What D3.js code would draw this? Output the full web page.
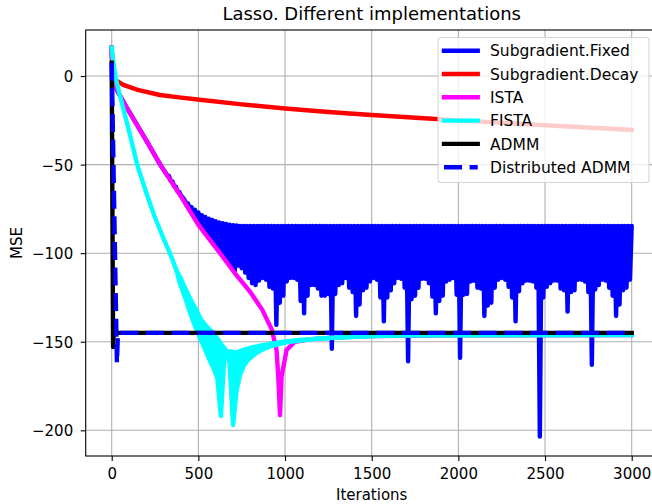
<!DOCTYPE html>
<html>
<head>
<meta charset="utf-8">
<script src="https://cdn.jsdelivr.net/npm/d3@7"></script>
<style>
  body { margin: 0; background: #fff; }
  svg { display: block; font-family: 'DejaVu Sans', sans-serif; }
</style>
</head>
<body>
<svg id="chart" width="652" height="504"></svg>
<script>
// values (MSE per iteration)

const xTicks = [0, 500, 1000, 1500, 2000, 2500, 3000]
const yTicks = [0, -50, -100, -150, -200]

const seriesNames = ['Subgradient.Fixed', 'Subgradient.Decay', 'ISTA', 'FISTA', 'ADMM', 'Distributed ADMM']
const seriesColors = ['#0000ff', '#ff0000', '#ff00ff', '#00ffff', '#000000', '#0000ff']

// Subgradient.Fixed: smooth start, then it oscillates every few iterations.
// peaks sit at fixedStart + i*fixedStep, troughs half a step later
const fixedHeadIter = [0, 5, 30, 100, 200, 280]
const fixedHeadMSE = [16, 2, -8, -20, -36.5, -50]
const fixedStart = 320
const fixedStep = 20
const fixedPeakMSE = [
  -56, -59, -62, -65, -67.5, -70, -72, -74, -75.5, -77, -78.5, -79.5, -80.5, -81.3,
  -82, -82.6, -83.1, -83.5, -83.9, -84.2, -84.4,
  -84.6, -84.6, -84.6, -84.6, -84.6, -84.6, -84.6, -84.6, -84.6, -84.6, -84.6, -84.6,
  -84.6, -84.6, -84.6, -84.6, -84.6, -84.6, -84.6, -84.6, -84.6, -84.6, -84.6, -84.6,
  -84.6, -84.6, -84.6, -84.6, -84.6, -84.6, -84.6, -84.6, -84.6, -84.6, -84.6, -84.6,
  -84.6, -84.6, -84.6, -84.6, -84.6, -84.6, -84.6, -84.6, -84.6, -84.6, -84.6, -84.6,
  -84.6, -84.6, -84.6, -84.6, -84.6, -84.6, -84.6, -84.6, -84.6, -84.6, -84.6, -84.6,
  -84.6, -84.6, -84.6, -84.6, -84.6, -84.6, -84.6, -84.6, -84.6, -84.6, -84.6, -84.6,
  -84.6, -84.6, -84.6, -84.6, -84.6, -84.6, -84.6, -84.6, -84.6, -84.6, -84.6, -84.6,
  -84.6, -84.6, -84.6, -84.6, -84.6, -84.6, -84.6, -84.6, -84.6, -84.6, -84.6, -84.6,
  -84.6, -84.6, -84.6, -84.6, -84.6, -84.6, -84.6, -84.6, -84.6, -84.6, -84.6, -84.6,
  -84.6, -84.6, -84.6, -84.6, -84.6, -84.6,
]
const fixedTroughMSE = [
  -56.5, -59.5, -62.5, -65.5, -68.6, -71.8, -75, -78.2, -81.4, -84.3,
  -86.8, -89.4, -92, -94.5, -97, -99.6, -102.3, -105, -107.6, -110.2,
  -107, -108.5, -111, -114, -117, -118, -115.5, -114, -115, -119,
  -120, -140.5, -128, -124, -116, -114, -114, -115, -127, -134,
  -124, -118, -118, -120, -124, -124, -123, -154, -123, -118,
  -117, -114, -119.5, -122, -135.5, -129, -121, -119.5, -116, -114,
  -115, -125, -138.5, -125, -121, -117, -114, -114.5, -119.5, -161,
  -126, -124, -119.5, -114.5, -114.5, -117, -124.5, -134, -127, -124,
  -116, -115, -114, -123.5, -159, -123.5, -123, -116, -115.5, -119.5,
  -120, -135.5, -129.5, -128, -119.5, -115, -114, -115, -119, -125,
  -138.5, -121.5, -117, -115.5, -115.5, -116, -119.5, -203.5, -125, -119,
  -117, -115.5, -115.5, -120, -121, -133, -122, -121, -115, -115,
  -116, -122, -163, -120.5, -118, -115, -115.5, -119.5, -124, -135.5,
  -129, -121, -119.5, -115,
]

const decayIter = [0, 4, 10, 25, 67, 150, 278, 400, 509, 750, 1000, 1250, 1500, 1778, 2000, 2500, 3000]
const decayMSE = [16, 1, -0.5, -2.5, -5, -7.8, -10.7, -12.2, -13.4, -16, -18.3, -20.3, -22, -23.7, -25, -27.8, -30.4]

const istaIter = [0, 5, 30, 100, 200, 280, 400, 500, 625, 716, 800, 869, 923, 951, 961, 971, 980, 1009, 1057, 1150, 1300, 1500, 2000, 3000]
const istaMSE = [16, 2, -8, -20, -36.5, -50, -68, -84, -100, -112, -122, -132, -143, -154.6, -169.7, -191.5, -169.7, -154.6, -150, -148.5, -147.5, -146.8, -146.4, -146.2]

// FISTA: one line, then it flips between two strands (odd / even iterates),
// then one line again. strand A at fistaStart + i*fistaStep, strand B half a step later
const fistaHeadIter = [0, 10, 25, 50, 100, 147, 200, 250, 300, 336, 375]
const fistaHeadMSE = [16, 7, -2, -12, -31, -50, -66, -80, -92, -100, -110]
const fistaStart = 390
const fistaStep = 20
const fistaStrandA = [
  -116, -121.5, -127, -133, -138.5, -143.5, -148, -152.5, -157, -161.5, -165.5,
  -171, -192, -158, -155.5, -155.5, -156, -155.7, -155, -154.3, -153.7, -153.2,
  -152.7, -152.3, -151.9, -151.6, -151.2, -150.9, -150.6, -150.3, -150, -149.8,
  -149.6, -149.4, -149.2, -149, -148.8, -148.7, -148.5, -148.4, -148.2, -148.1,
  -148, -147.9, -147.8, -147.7, -147.6, -147.5, -147.4, -147.3, -147.2,
]
const fistaStrandB = [
  -114.5, -119, -123, -127, -130.5, -134.5, -138, -140.5, -142.5, -144.5, -147,
  -149.5, -152.5, -155, -162, -197, -178, -169, -164, -161, -159, -157.5,
  -156, -155, -154, -153.2, -152.5, -152, -151.4, -151, -150.5, -150.2,
  -149.9, -149.6, -149.4, -149.2, -149, -148.8, -148.6, -148.4, -148.3, -148.1,
  -148, -147.9, -147.8, -147.7, -147.6, -147.5, -147.4, -147.3, -147.2,
]
const fistaTailIter = [1500, 1700, 2200, 3000]
const fistaTailMSE = [-146.8, -146.5, -146.3, -146.2]

const admmIter = [0, 8, 12, 3000]
const admmMSE = [7.5, -153, -145, -145]

const dadmmIter = [0, 30, 36, 3000]
const dadmmMSE = [7.5, -162, -145, -145]

// ---------------------------------------------------------------------------

const pairs = (iters, vals) => iters.map((k, i) => [k, vals[i]])
const grid = (start, step, vals) => vals.map((v, i) => [start + i * step, v])

// interleave two strands sampled on the same regular iteration grid
function weave(start, step, first, second) {
  const pts = []
  for (let i = 0; i < first.length; i++) {
    pts.push([start + i * step, first[i]])
    if (i < second.length) pts.push([start + step / 2 + i * step, second[i]])
  }
  return pts
}

const fistaHead = pairs(fistaHeadIter, fistaHeadMSE)
const fistaTail = pairs(fistaTailIter, fistaTailMSE)
const fistaA = grid(fistaStart, fistaStep, fistaStrandA)
const fistaB = grid(fistaStart + fistaStep / 2, fistaStep, fistaStrandB)

const series = [
  pairs(fixedHeadIter, fixedHeadMSE).concat(weave(fixedStart, fixedStep, fixedPeakMSE, fixedTroughMSE)),
  pairs(decayIter, decayMSE),
  pairs(istaIter, istaMSE),
  fistaHead.concat(fistaA, fistaTail),
  pairs(admmIter, admmMSE),
  pairs(dadmmIter, dadmmMSE),
]

const plot = { left: 85.7, right: 657.7, top: 30, bottom: 456 }
const lineWidth = 4.4
const dash = '18,7.6'
const fontSize = 15
const legendFontSize = 15.5

const svg = d3.select('#chart')

const x = d3.scaleLinear().domain([-150, 3150]).range([plot.left, plot.right])
const y = d3.scaleLinear().domain([-214.5, 26]).range([plot.bottom, plot.top])

svg.append('defs').append('clipPath').attr('id', 'plotClip')
  .append('rect')
  .attr('x', plot.left).attr('y', plot.top)
  .attr('width', plot.right - plot.left).attr('height', plot.bottom - plot.top)

// grid
const gridG = svg.append('g').attr('stroke', '#b0b0b0').attr('stroke-width', 1.1)
gridG.selectAll('line.gx').data(xTicks).enter().append('line')
  .attr('x1', d => x(d)).attr('x2', d => x(d))
  .attr('y1', plot.top).attr('y2', plot.bottom)
gridG.selectAll('line.gy').data(yTicks).enter().append('line')
  .attr('x1', plot.left).attr('x2', plot.right)
  .attr('y1', d => y(d)).attr('y2', d => y(d))

// lines
const line = d3.line().x(d => x(d[0])).y(d => y(d[1]))
// same polyline, but each step as its own subpath (round caps stand in for joins);
// avoids stroker holes on the hair-pin turns of the oscillating series
const pieces = pts => pts.slice(1).map((p, i) => line([pts[i], p])).join('')

const plotG = svg.append('g').attr('clip-path', 'url(#plotClip)')

const drawLine = (pts, i, split) => plotG.append('path')
  .attr('d', split ? pieces(pts) : line(pts))
  .attr('fill', 'none')
  .attr('stroke', seriesColors[i])
  .attr('stroke-width', lineWidth)
  .attr('stroke-linejoin', 'round')
  .attr('stroke-linecap', split ? 'round' : i === 5 ? 'butt' : 'square')
  .attr('stroke-dasharray', i === 5 ? dash : null)

series.forEach((pts, i) => {
  if (i === 3) {
    // the fast flip between the two FISTA strands reads as a filled band
    plotG.append('path')
      .attr('d', line(fistaA.concat(fistaB.slice().reverse())) + 'Z')
      .attr('fill', seriesColors[3])
    drawLine([fistaHead[fistaHead.length - 1]].concat(fistaB, [fistaTail[0]]), 3)
  }
  drawLine(pts, i, i === 0)
})

// spines
svg.append('rect')
  .attr('x', plot.left).attr('y', plot.top)
  .attr('width', plot.right - plot.left).attr('height', plot.bottom - plot.top)
  .attr('fill', 'none').attr('stroke', '#000').attr('stroke-width', 1.1)

// axes
const xAxis = svg.append('g')
  .attr('transform', `translate(0,${plot.bottom})`)
  .call(d3.axisBottom(x).tickValues(xTicks).tickFormat(d3.format('d')).tickSize(5).tickPadding(7.5))
const yAxis = svg.append('g')
  .attr('transform', `translate(${plot.left},0)`)
  .call(d3.axisLeft(y).tickValues(yTicks).tickSize(5).tickPadding(7.5))

for (const ax of [xAxis, yAxis]) {
  ax.select('.domain').remove()
  ax.selectAll('.tick line').attr('stroke', '#000').attr('stroke-width', 1.1)
  ax.selectAll('.tick text')
    .attr('fill', '#000')
    .style('font-family', "'DejaVu Sans', sans-serif")
    .style('font-size', fontSize + 'px')
}
yAxis.selectAll('.tick text').attr('dy', '0.36em')

// labels
svg.append('text')
  .attr('x', (plot.left + plot.right) / 2).attr('y', 20)
  .attr('text-anchor', 'middle')
  .style('font-size', '18px')
  .text('Lasso. Different implementations')

svg.append('text')
  .attr('x', (plot.left + plot.right) / 2).attr('y', 500)
  .attr('text-anchor', 'middle')
  .style('font-size', fontSize + 'px')
  .text('Iterations')

svg.append('text')
  .attr('transform', `translate(21.5,${(plot.top + plot.bottom) / 2}) rotate(-90)`)
  .attr('text-anchor', 'middle')
  .style('font-size', fontSize + 'px')
  .text('MSE')

// legend
const legend = svg.append('g')
legend.append('rect')
  .attr('x', 438).attr('y', 37.5).attr('width', 211).attr('height', 145)
  .attr('rx', 3)
  .attr('fill', '#fff').attr('fill-opacity', 0.8)
  .attr('stroke', '#cccccc').attr('stroke-opacity', 0.8).attr('stroke-width', 1.1)

const rowY = i => 50.7 + i * 23.3
const item = legend.selectAll('g.item').data(seriesNames).enter().append('g')
item.append('line')
  .attr('x1', 444).attr('x2', 477.7)
  .attr('y1', (d, i) => rowY(i)).attr('y2', (d, i) => rowY(i))
  .attr('stroke', (d, i) => seriesColors[i])
  .attr('stroke-width', lineWidth)
  .attr('stroke-linecap', (d, i) => i === 5 ? 'butt' : 'square')
  .attr('stroke-dasharray', (d, i) => i === 5 ? dash : null)
item.append('text')
  .attr('x', 490).attr('y', (d, i) => rowY(i) + 5.6)
  .style('font-size', legendFontSize + 'px')
  .text(d => d)
</script>
</body>
</html>
